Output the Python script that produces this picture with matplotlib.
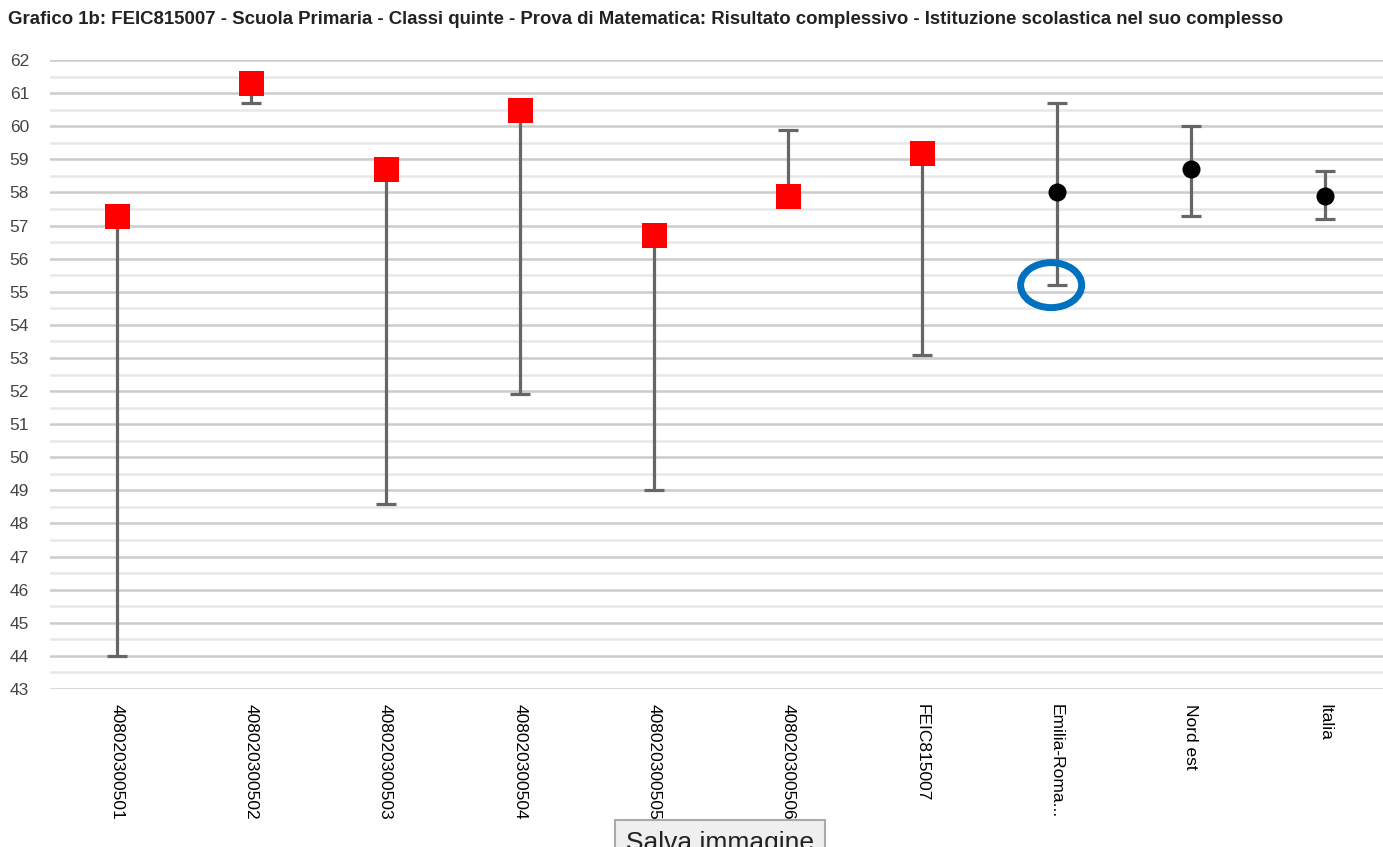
import matplotlib
matplotlib.use("Agg")
import matplotlib.pyplot as plt
from matplotlib.patches import Ellipse
from matplotlib.ticker import MultipleLocator

plt.rcParams['font.family'] = ['Liberation Sans', 'DejaVu Sans']

# Data
categories = ['408020300501', '408020300502', '408020300503', '408020300504',
              '408020300505', '408020300506', 'FEIC815007', 'Emilia-Roma...',
              'Nord est', 'Italia']
values = [57.3, 61.3, 58.7, 60.5, 56.7, 57.9, 59.2, 58.0, 58.7, 57.9]
lower = [44.0, 60.7, 48.6, 51.9, 49.0, 57.9, 53.1, 55.2, 57.3, 57.2]
upper = [57.3, 61.3, 58.7, 60.5, 56.7, 59.9, 59.2, 60.7, 60.0, 58.65]
is_class = [True, True, True, True, True, True, True, False, False, False]

title = ('Grafico 1b: FEIC815007 - Scuola Primaria - Classi quinte - Prova di '
         'Matematica: Risultato complessivo - Istituzione scolastica nel suo complesso')

W, H = 1383, 847
fig = plt.figure(figsize=(W / 100, H / 100), dpi=100)
# axes runs past the right edge, as in the screenshot
ax = fig.add_axes([50 / W, 1 - 689 / H, 1342 / W, 629 / H])

x = list(range(len(categories)))
for i in x:
    yerr = [[values[i] - lower[i]], [upper[i] - values[i]]]
    ax.errorbar(i, values[i], yerr=yerr, fmt='none', ecolor='#666666',
                elinewidth=2.3, capsize=7.5, capthick=2.3, zorder=3)
    if is_class[i]:
        ax.plot(i, values[i], 's', color='#ff0000', markersize=18,
                markeredgewidth=0, zorder=4)
    else:
        ax.plot(i, values[i], 'o', color='black', markersize=13,
                markeredgewidth=0, zorder=4)

# blue highlight around the Emilia-Romagna lower bound
ax.add_patch(Ellipse((7 - 0.04, lower[7]), 0.455, 1.36, fill=False,
                     edgecolor='#0070c0', linewidth=5, zorder=5,
                     clip_on=False))

ax.set_xlim(-0.5, len(categories) - 0.5)
ax.set_ylim(43, 62)
ax.yaxis.set_major_locator(MultipleLocator(1))
ax.yaxis.set_minor_locator(MultipleLocator(0.5))
ax.grid(which='major', axis='y', color='#cccccc', linewidth=1.8, zorder=0)
ax.grid(which='minor', axis='y', color='#e8e8e8', linewidth=1.8, zorder=0)
ax.set_axisbelow(True)
for s in ax.spines.values():
    s.set_visible(False)

ax.set_xticks(x)
ax.set_xticklabels(categories, rotation=270, fontsize=12.5, va='top',
                   ha='center', color='black')
ax.tick_params(axis='x', length=0, pad=10.5)
ax.tick_params(axis='y', which='both', length=0, pad=29, labelsize=12.5,
               labelcolor='#444444')
for lab in ax.get_yticklabels():
    lab.set_horizontalalignment('left')

fig.text(8 / W, 1 - 20 / H, title, fontsize=13.4, fontweight='bold',
         va='center', ha='left', color='#222222')

# the "Salva immagine" button, cut off at the bottom of the screenshot
fig.text(720 / W, 1 - 831 / H, 'Salva immagine', fontsize=19, ha='center',
         va='top', color='#222222',
         bbox=dict(boxstyle='square,pad=0.4', facecolor='#efefef',
                   edgecolor='#aaaaaa', linewidth=1.5))

fig.savefig('out.png', dpi=100)
